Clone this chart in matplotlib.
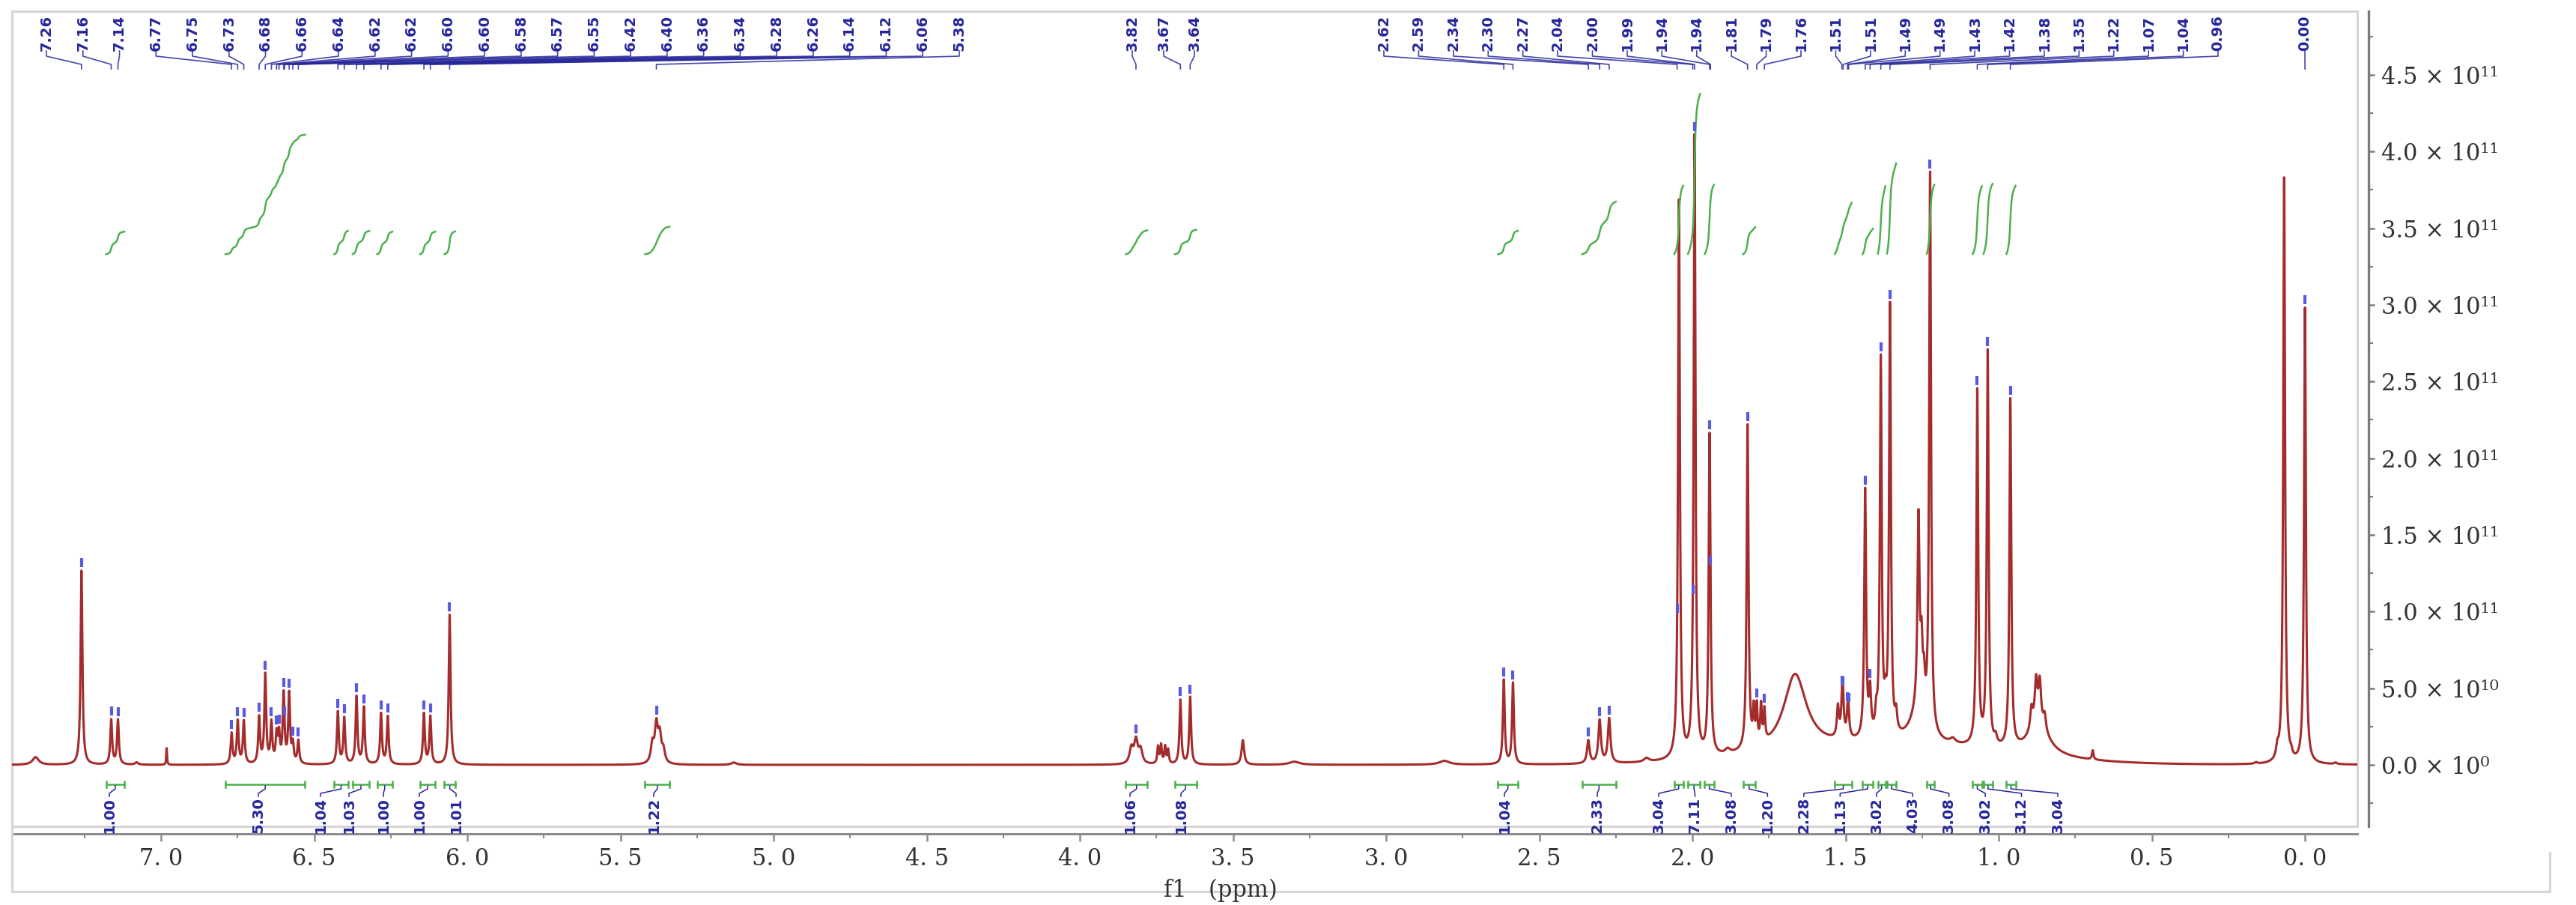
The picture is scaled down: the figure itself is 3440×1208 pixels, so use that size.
import numpy as np
import matplotlib
matplotlib.use("Agg")
import matplotlib.pyplot as plt
from matplotlib.ticker import MultipleLocator, FuncFormatter

SCALE = 1e11

# peak list: position (ppm), height (x1e11), half width at half height (ppm)
peak_ppm = [7.41, 7.26, 7.163, 7.141, 7.08, 6.982,
            6.770, 6.750, 6.730, 6.680, 6.660, 6.640, 6.623, 6.615, 6.600, 6.582, 6.570, 6.552,
            6.423, 6.402, 6.362, 6.338, 6.282, 6.260, 6.142, 6.121, 6.058,
            5.396, 5.383, 5.372, 5.360, 5.13,
            3.832, 3.817, 3.802, 3.745, 3.735, 3.722, 3.712, 3.672, 3.640, 3.468, 3.30, 2.81,
            2.616, 2.586, 2.340, 2.303, 2.272, 2.15,
            2.044, 1.993, 1.944, 1.885, 1.820, 1.800, 1.790, 1.776, 1.765, 1.665,
            1.525, 1.510, 1.492, 1.436, 1.420, 1.400, 1.385, 1.370, 1.355, 1.335,
            1.265, 1.262, 1.252, 1.244, 1.224, 1.15,
            1.070, 1.036, 1.010, 0.962, 0.893, 0.878, 0.866, 0.850, 0.870, 0.693,
            0.16, 0.090, 0.068, 0.045, 0.000, -0.10]
peak_height = [0.05, 1.27, 0.29, 0.29, 0.015, 0.11,
               0.20, 0.28, 0.28, 0.30, 0.58, 0.26, 0.18, 0.18, 0.45, 0.45, 0.12, 0.15,
               0.34, 0.30, 0.44, 0.37, 0.33, 0.31, 0.33, 0.31, 0.98,
               0.12, 0.24, 0.17, 0.08, 0.015,
               0.10, 0.15, 0.09, 0.11, 0.12, 0.11, 0.09, 0.42, 0.44, 0.16, 0.02, 0.025,
               0.55, 0.53, 0.15, 0.28, 0.29, 0.025,
               3.65, 4.05, 2.10, 0.03, 2.12, 0.22, 0.24, 0.24, 0.20, 0.50,
               0.20, 0.38, 0.25, 1.62, 0.28, 0.12, 2.45, 0.15, 2.80, 0.12,
               0.18, 1.25, 0.40, 0.22, 3.65, 0.03,
               2.32, 2.58, 0.05, 2.28, 0.14, 0.28, 0.27, 0.10, 0.20, 0.06,
               0.01, 0.07, 3.83, 0.03, 2.98, 0.01]
peak_hwhm = [0.012, 0.0035, 0.0035, 0.0035, 0.006, 0.0015,
             0.0035, 0.0035, 0.0035, 0.0035, 0.0035, 0.0035, 0.0035, 0.0035, 0.0035, 0.0035, 0.0035, 0.0035,
             0.0035, 0.0035, 0.0035, 0.0035, 0.0035, 0.0035, 0.0035, 0.0035, 0.0035,
             0.006, 0.006, 0.006, 0.006, 0.01,
             0.007, 0.007, 0.007, 0.003, 0.003, 0.003, 0.003, 0.0035, 0.0035, 0.005, 0.02, 0.02,
             0.0035, 0.0035, 0.005, 0.005, 0.005, 0.01,
             0.0035, 0.0035, 0.0035, 0.01, 0.0035, 0.003, 0.003, 0.003, 0.003, 0.045,
             0.004, 0.004, 0.004, 0.0035, 0.004, 0.004, 0.0035, 0.004, 0.0035, 0.004,
             0.03, 0.004, 0.004, 0.004, 0.0035, 0.01,
             0.0035, 0.0035, 0.005, 0.0035, 0.005, 0.005, 0.005, 0.005, 0.04, 0.003,
             0.005, 0.005, 0.0035, 0.004, 0.0035, 0.005]

# broad background under the aliphatic signals
hump_center = 1.35
hump_height = 0.13
hump_sigma = 0.35

# integration regions and values
int_start = [7.18, 6.79, 6.435, 6.375, 6.295, 6.155, 6.075, 5.42, 3.85, 3.69, 2.635, 2.36,
             2.06, 2.015, 1.96, 1.835, 1.535, 1.445, 1.395, 1.365, 1.235, 1.085, 1.05, 0.975]
int_end = [7.12, 6.53, 6.39, 6.32, 6.245, 6.105, 6.04, 5.34, 3.78, 3.62, 2.57, 2.25,
           2.03, 1.975, 1.93, 1.795, 1.48, 1.41, 1.37, 1.335, 1.21, 1.055, 1.02, 0.945]
int_value = [1.00, 5.30, 1.04, 1.03, 1.00, 1.00, 1.01, 1.22, 1.06, 1.08, 1.04, 2.33,
             3.04, 7.11, 3.08, 1.20, 2.28, 1.13, 3.02, 4.03, 3.08, 3.02, 3.12, 3.04]

# picked peaks
top_labels = ["7.26", "7.16", "7.14", "6.77", "6.75", "6.73", "6.68", "6.66", "6.64", "6.62",
              "6.62", "6.60", "6.60", "6.58", "6.57", "6.55", "6.42", "6.40", "6.36", "6.34",
              "6.28", "6.26", "6.14", "6.12", "6.06", "5.38",
              "3.82", "3.67", "3.64",
              "2.62", "2.59", "2.34", "2.30", "2.27", "2.04", "2.00", "1.99", "1.94", "1.94",
              "1.81", "1.79", "1.76", "1.51", "1.51", "1.49", "1.49", "1.43", "1.42", "1.38",
              "1.35", "1.22", "1.07", "1.04", "0.96",
              "0.00"]
pick_ppm = [7.260, 7.163, 7.141, 6.770, 6.750, 6.730, 6.680, 6.660, 6.640, 6.623,
            6.615, 6.600, 6.597, 6.582, 6.570, 6.552, 6.423, 6.402, 6.362, 6.338,
            6.282, 6.260, 6.142, 6.121, 6.058, 5.383,
            3.817, 3.672, 3.640,
            2.616, 2.586, 2.340, 2.303, 2.272, 2.050, 1.999, 1.993, 1.944, 1.941,
            1.820, 1.790, 1.765, 1.512, 1.508, 1.494, 1.490, 1.436, 1.420, 1.385,
            1.355, 1.224, 1.070, 1.036, 0.962,
            0.000]

RED = "#a52c2c"
GREEN = "#4cb04c"
BLUE = "#26269a"
FRAME = "#d6d6d6"

W, H = 3440, 1208
AX_L, AX_R, AX_T, AX_B = 16, 3148, 15, 1103
XMAX, XMIN = 7.487, -0.171


def px2ppm(x):
    return XMAX - (np.asarray(x, float) - AX_L) * (XMAX - XMIN) / (AX_R - AX_L)


def py2val(y):
    return (1021 - np.asarray(y, float)) / 204.7 * SCALE


SUP = str.maketrans("0123456789-", "⁰¹²³⁴⁵⁶⁷⁸⁹⁻")


def sci_fmt(v, pos):
    if abs(v) < 1:
        return "0.0 × 10⁰"
    e = int(np.floor(np.log10(abs(v)) + 1e-9))
    return f"{v / 10 ** e:.1f} × 10" + str(e).translate(SUP)


ppm = np.arange(XMAX, XMIN, -0.0004)
spec = np.zeros_like(ppm)
for c, h, w in zip(peak_ppm, peak_height, peak_hwhm):
    spec += h / (1 + ((ppm - c) / w) ** 2)
spec += hump_height * np.exp(-0.5 * ((ppm - hump_center) / hump_sigma) ** 2)
spec *= SCALE

fig = plt.figure(figsize=(W / 100, H / 100), dpi=100)
ax = fig.add_axes([AX_L / W, 1 - AX_B / H, (AX_R - AX_L) / W, (AX_B - AX_T) / H])
ax.set_xlim(XMAX, XMIN)
ax.set_ylim(py2val(AX_B), py2val(AX_T))

ax.plot(ppm, spec, color=RED, lw=2.2, zorder=3)

# integral curves + brackets below baseline
int_base = 3.33
int_step = 0.147
y_br = py2val(1047)
cap = 0.02 * SCALE
for a, b, v in zip(int_start, int_end, int_value):
    m = (ppm <= a) & (ppm >= b)
    cum = np.cumsum(spec[m])
    cum = cum / cum[-1]
    ax.plot(ppm[m], (int_base + int_step * v * cum) * SCALE, color=GREEN, lw=1.8, zorder=4)
    ax.plot([a, b], [y_br, y_br], color=GREEN, lw=1.8)
    ax.plot([a, a], [y_br - cap, y_br + cap], color=GREEN, lw=1.8)
    ax.plot([b, b], [y_br - cap, y_br + cap], color=GREEN, lw=1.8)

bottom_px = list(np.array([146, 345, 428, 466, 512, 560, 609, 873, 1509, 1577, 2009, 2133]))
bottom_px += list(np.linspace(2215, 2748, 12))
bottom_x = px2ppm(bottom_px)
for lx, a, b, v in zip(bottom_x, int_start, int_end, int_value):
    cx = (a + b) / 2
    ax.plot([lx, lx, cx, cx], [py2val(1063), py2val(1059), py2val(1053), py2val(1049)],
            color=BLUE, lw=1.1)
    ax.text(lx, py2val(1064), f"{v:.2f}", rotation=90, ha="center", va="top",
            fontsize=14, fontweight="bold", color=BLUE, family="DejaVu Sans")

# peak labels on top
top_px = list(np.linspace(62, 1281, 26)) + [1512, 1554, 1595] + list(np.linspace(1848, 2962, 25)) + [3078]
top_x = px2ppm(top_px)
for lx, px_ppm, lab in zip(top_x, pick_ppm, top_labels):
    ax.plot([lx, lx, px_ppm, px_ppm], [py2val(68), py2val(75), py2val(86), py2val(92)],
            color=BLUE, lw=1.2, alpha=0.85)
    ax.text(lx, py2val(68), lab, rotation=90, ha="center", va="bottom",
            fontsize=14, fontweight="bold", color=BLUE, family="DejaVu Sans")

pick_y = np.interp(pick_ppm, ppm[::-1], spec[::-1])
ax.plot(pick_ppm, pick_y + 0.05 * SCALE, ls="none", marker="|", ms=8, mew=3,
        color="#5a5ae0", zorder=5)

# frame around the spectrum
ax.add_patch(plt.Rectangle((0, 0), 1, 1, transform=ax.transAxes, fill=False,
                           edgecolor=FRAME, lw=2.2, clip_on=False, zorder=1))
ax.spines["top"].set_visible(False)
ax.spines["left"].set_visible(False)
ax.spines["bottom"].set_position(("outward", 7.2))
ax.spines["right"].set_position(("outward", 10.8))
ax.spines["bottom"].set_color("#8c8c8c")
ax.spines["bottom"].set_linewidth(2.2)
ax.spines["right"].set_color("#7a7a7a")
ax.spines["right"].set_linewidth(2.4)

ax.xaxis.set_major_locator(MultipleLocator(0.5))
ax.xaxis.set_minor_locator(MultipleLocator(0.25))
ax.xaxis.set_major_formatter(FuncFormatter(lambda v, p: f"{abs(v):.1f}".replace(".", ". ")))
ax.tick_params(axis="x", which="major", length=7, width=1.8, color="#8c8c8c",
               labelsize=22, pad=6, labelcolor="#333333")
ax.tick_params(axis="x", which="minor", length=4, width=1.5, color="#8c8c8c")
for t in ax.get_xticklabels():
    t.set_family("DejaVu Serif")

ax.yaxis.tick_right()
ax.yaxis.set_major_locator(MultipleLocator(0.5 * SCALE))
ax.yaxis.set_minor_locator(MultipleLocator(0.25 * SCALE))
ax.yaxis.set_major_formatter(FuncFormatter(sci_fmt))
ax.yaxis.get_offset_text().set_visible(False)
ax.tick_params(axis="y", which="major", length=6, width=1.8, color="#7a7a7a",
               labelsize=22, pad=6, labelcolor="#333333")
ax.tick_params(axis="y", which="minor", length=4, width=1.5, color="#7a7a7a")
for t in ax.get_yticklabels():
    t.set_family("DejaVu Serif")

fig.text(1630 / W, 1 - 1188 / H, "f1   (ppm)", ha="center", va="center",
         fontsize=22, family="DejaVu Serif", color="#333333")

# outer frame of the picture
for xs, ys in [([AX_L, AX_L], [AX_B, 1190]), ([AX_L, 3405], [1190, 1190]), ([3405, 3405], [1138, 1190])]:
    fig.add_artist(plt.Line2D(np.array(xs) / W, 1 - np.array(ys) / H, transform=fig.transFigure,
                              color=FRAME, lw=2.2))

fig.savefig("out.png", dpi=100, facecolor="white")
